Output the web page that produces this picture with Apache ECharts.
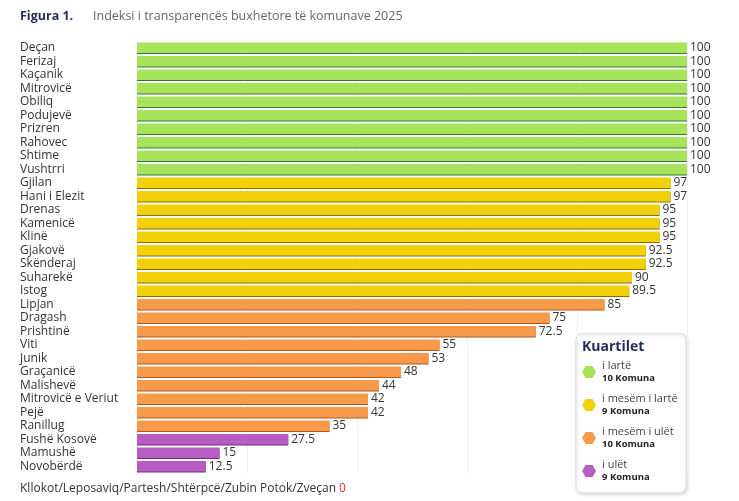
<!DOCTYPE html>
<html><head><meta charset="utf-8">
<script src="https://cdn.jsdelivr.net/npm/echarts@6/dist/echarts.min.js"></script>
<style>html,body{margin:0;padding:0;background:#fff}#c{width:739px;height:501px}</style>
</head><body><div id="c"></div>
<script>
const municipalities = ['Deçan','Ferizaj','Kaçanik','Mitrovicë','Obiliq','Podujevë','Prizren','Rahovec','Shtime','Vushtrri',
  'Gjilan','Hani i Elezit','Drenas','Kamenicë','Klinë','Gjakovë','Skënderaj','Suharekë','Istog',
  'Lipjan','Dragash','Prishtinë','Viti','Junik','Graçanicë','Malishevë','Mitrovicë e Veriut','Pejë','Ranillug',
  'Fushë Kosovë','Mamushë','Novobërdë'];
const scores = [100,100,100,100,100,100,100,100,100,100,97,97,95,95,95,92.5,92.5,90,89.5,85,75,72.5,55,53,48,44,42,42,35,27.5,15,12.5];
const quartile = [0,0,0,0,0,0,0,0,0,0,1,1,1,1,1,1,1,1,1,2,2,2,2,2,2,2,2,2,2,3,3,3];
const quartileColors = ['#a8e35c','#f2d10a','#f89a4c','#b65cc2'];
const quartileEdge = ['#2f7d2a','#8a6d00','#b5561a','#6d2a78'];
const quartileNames = ['i lartë','i mesëm i lartë','i mesëm i ulët','i ulët'];
const quartileCounts = ['10 Komuna','9 Komuna','10 Komuna','9 Komuna'];

function hex(cx, cy, r, color) {
  const pts = [];
  for (let i = 0; i < 6; i++) { const a = Math.PI / 3 * i; pts.push([cx + r * Math.cos(a), cy + r * Math.sin(a)]); }
  return { type: 'polygon', shape: { points: pts }, style: { fill: color } };
}
const legendItems = [];
quartileNames.forEach((n, i) => {
  const y = 372 + i * 33;
  legendItems.push(hex(589, y, 7, quartileColors[i]));
  legendItems.push({ type: 'text', x: 602, y: y - 12, style: { text: n, fill: '#444', font: '11px "Open Sans"' } });
  legendItems.push({ type: 'text', x: 602, y: y + 1, style: { text: quartileCounts[i], fill: '#222', font: 'bold 9.5px "Open Sans"' } });
});

const chart = echarts.init(document.getElementById('c'));
chart.setOption({
  animation: false,
  grid: { left: 137, right: 52, top: 41, bottom: 28 },
  xAxis: { type: 'value', min: 0, max: 100, interval: 20, axisLabel: { show: false }, axisLine: { show: false }, axisTick: { show: false },
    splitLine: { lineStyle: { color: '#f0f0f0' } } },
  yAxis: { type: 'category', inverse: true, data: municipalities, axisLine: { show: false }, axisTick: { show: false },
    axisLabel: { interval: 0, align: 'left', margin: 117, color: '#333', fontSize: 12, fontFamily: 'Open Sans' } },
  series: [{
    type: 'bar', barCategoryGap: '24%',
    data: scores.map((v, i) => ({ value: v, itemStyle: { color: quartileColors[quartile[i]], shadowColor: quartileEdge[quartile[i]], shadowOffsetY: 1 } })),
    label: { show: true, position: 'right', distance: 3, color: '#333', fontSize: 12, fontFamily: 'Open Sans' }
  }],
  graphic: [
    { type: 'text', left: 20, top: 10, style: { text: 'Figura 1.', fill: '#1f2d5a', font: 'bold 12.5px "Open Sans"' } },
    { type: 'text', left: 93, top: 10, style: { text: 'Indeksi i transparencës buxhetore të komunave 2025', fill: '#666', font: '12.5px "Open Sans"' } },
    { type: 'text', left: 20, top: 483, style: { rich: { a: { fill: '#333', font: '12px "Open Sans"' }, b: { fill: '#e03030', font: '12px "Open Sans"' } },
      text: '{a|Kllokot/Leposaviq/Partesh/Shtërpcë/Zubin Potok/Zveçan }{b|0}' } },
    { type: 'rect', shape: { x: 576, y: 334, width: 110, height: 159, r: 6 },
      style: { fill: '#fff', stroke: '#dde', lineWidth: 1, shadowColor: 'rgba(0,0,0,0.18)', shadowBlur: 4, shadowOffsetX: 1, shadowOffsetY: 1 } },
    { type: 'text', x: 582, y: 340, style: { text: 'Kuartilet', fill: '#1f2d5a', font: 'bold 14px "Open Sans"' } },
    ...legendItems
  ]
});
</script></body></html>
